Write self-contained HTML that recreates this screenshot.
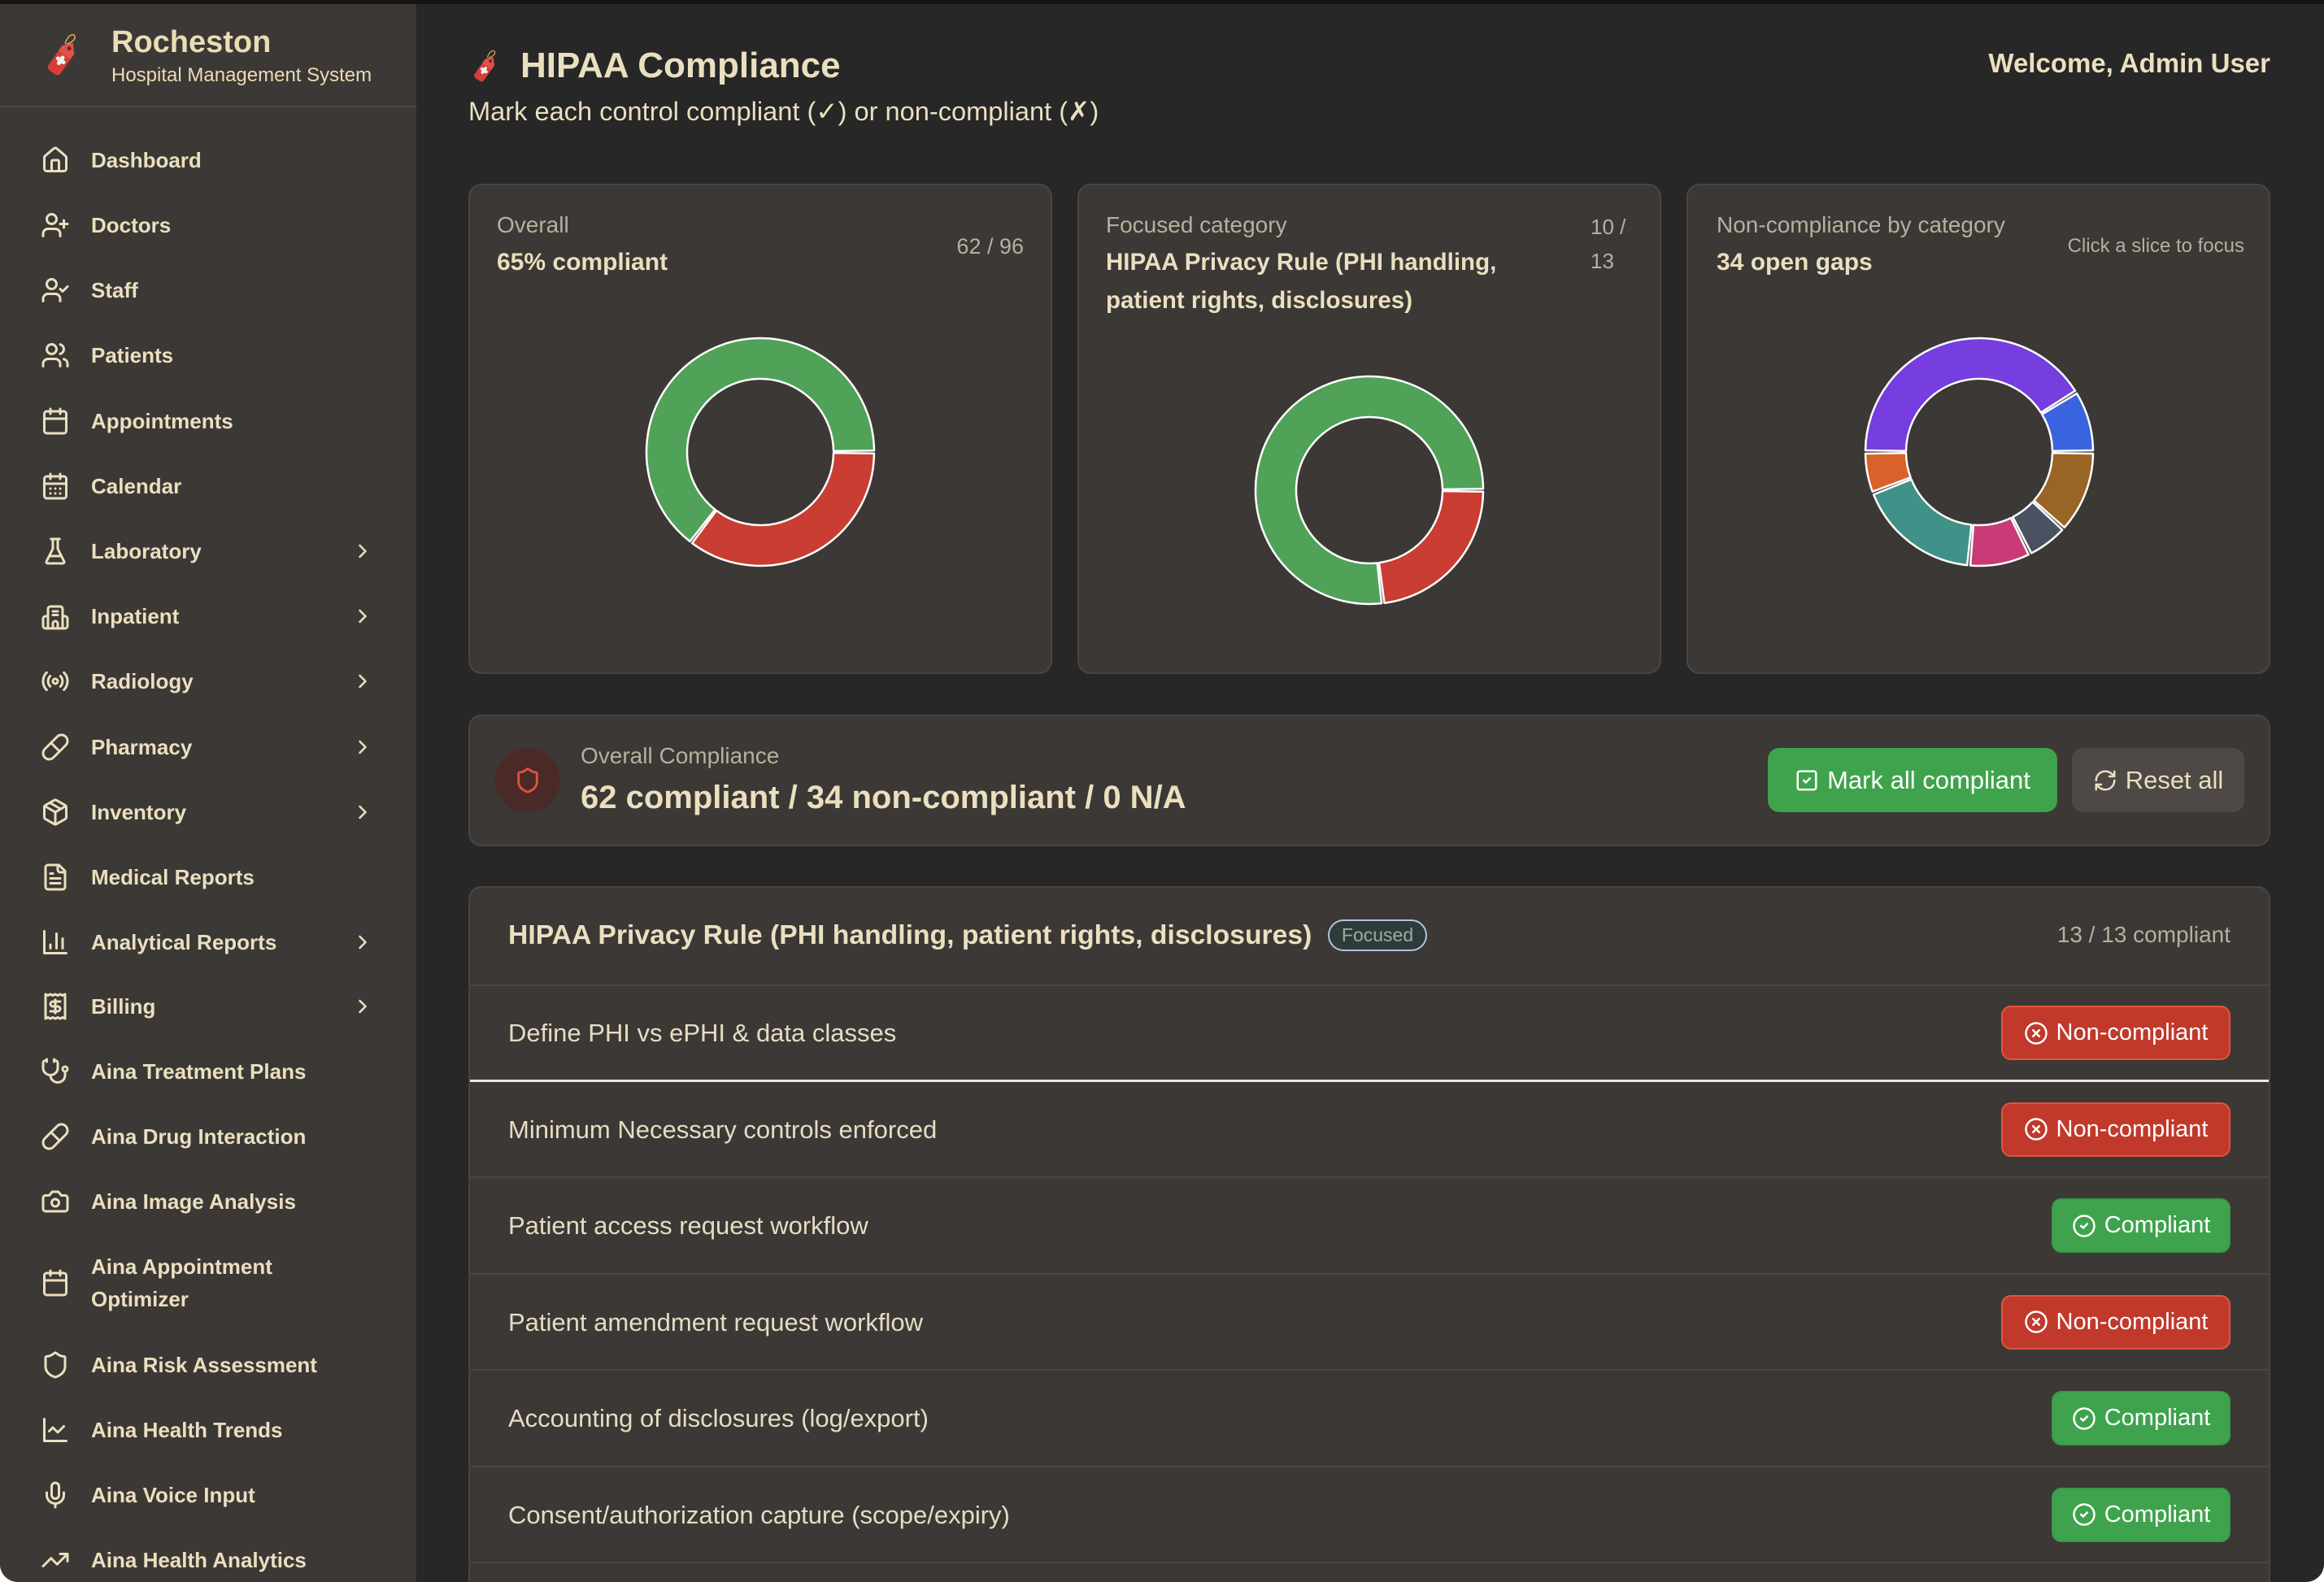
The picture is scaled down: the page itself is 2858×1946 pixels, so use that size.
<!DOCTYPE html>
<html><head><meta charset="utf-8"><title>HIPAA Compliance</title>
<style>
*{box-sizing:border-box}
html,body{margin:0;padding:0}
body{background:#ffffff;width:2858px;height:1946px;overflow:hidden}
#w{position:absolute;left:0;top:0;width:2858px;height:1946px;background:#272727;border-radius:0 0 22px 22px;overflow:hidden;font-family:"Liberation Sans",sans-serif;color:#eadfbf}
.a{position:absolute;white-space:nowrap}
#strip{position:absolute;left:0;top:0;width:2858px;height:5px;background:#151515}
#sb{position:absolute;left:0;top:5px;width:512px;height:1941px;background:#3c3835}
.ni{position:absolute;left:0;width:512px;height:60px}
.ni svg.ic{position:absolute;left:50px;top:12px;width:36px;height:36px;overflow:visible}
.ni .tx{position:absolute;left:112px;top:0;line-height:60px;font-size:26px;font-weight:bold;color:#eadfbf;white-space:nowrap}
.ni svg.ch{position:absolute;left:432px;top:16px;width:28px;height:28px}
.ic *{fill:none;stroke:#eadfbf;stroke-width:2;stroke-linecap:round;stroke-linejoin:round}
.ch *{fill:none;stroke:#eadfbf;stroke-width:2.2;stroke-linecap:round;stroke-linejoin:round}
.card{position:absolute;top:226px;width:718px;height:603px;background:#3c3835;border:2px solid #4a4541;border-radius:16px}
.lbl{font-size:28px;color:#b8af9f;line-height:40px}
.big{font-size:30px;font-weight:bold;color:#eadfbf;line-height:40px}
.row{position:absolute;left:578px;width:2212px;height:118.5px;border-bottom:2px solid #4a4541}
.rt{position:absolute;left:47px;top:0;line-height:118px;font-size:31px;color:#e6dcc3;white-space:nowrap}
.btn{position:absolute;display:flex;align-items:center;justify-content:center;gap:10px;height:67px;border-radius:12px;font-size:29px;color:#ffffff;white-space:nowrap}
.btn svg{width:30px;height:30px}
.btn svg *{fill:none;stroke:#ffffff;stroke-width:2;stroke-linecap:round;stroke-linejoin:round}
.nc{right:47px;width:282px;background:#c0392b;border:2px solid #e0553f}
.cp{right:47px;width:220px;background:#3fa34d;border:2px solid #3a9847}
</style></head>
<body>
<div id="w">
<div id="strip"></div>

<!-- SIDEBAR -->
<div id="sb"></div>
<svg class="a" style="left:47px;top:37px;width:60px;height:60px" viewBox="0 0 60 60">
  <g transform="rotate(35 30 34)">
    <path d="M21 22 L30 12 L39 22 L39 51 Q39 56 34 56 L26 56 Q21 56 21 51 Z" fill="#d63e38"/>
    <path d="M21 22 L30 12 L39 22 L39 30 L21 30 Z" fill="#e0524a"/>
    <circle cx="30" cy="20" r="2.6" fill="#7d221e"/>
    <path d="M26 38h8M30 34v8" stroke="#f4f0ea" stroke-width="5" stroke-linecap="round"/>
  </g>
  <path d="M33 17 C36 6 44 3 45 8 C46 12 40 16 35 17" fill="none" stroke="#d9ad4f" stroke-width="1.6"/>
</svg>
<div class="a" style="left:137px;top:30px;font-size:38px;font-weight:bold;line-height:44px;color:#eadcb4">Rocheston</div>
<div class="a" style="left:137px;top:78px;font-size:24px;line-height:30px;color:#eadcb4">Hospital Management System</div>
<div class="a" style="left:0;top:130px;width:512px;height:2px;background:#4d4844"></div>

<div class="ni" style="top:167px"><svg class="ic" viewBox="0 0 24 24"><path d="M15 21v-8a1 1 0 0 0-1-1h-4a1 1 0 0 0-1 1v8"/><path d="M3 10a2 2 0 0 1 .709-1.528l7-5.999a2 2 0 0 1 2.582 0l7 5.999A2 2 0 0 1 21 10v9a2 2 0 0 1-2 2H5a2 2 0 0 1-2-2z"/></svg><div class="tx">Dashboard</div></div>
<div class="ni" style="top:247px"><svg class="ic" viewBox="0 0 24 24"><path d="M16 21v-2a4 4 0 0 0-4-4H6a4 4 0 0 0-4 4v2"/><circle cx="9" cy="7" r="4"/><path d="M19 8v6M22 11h-6"/></svg><div class="tx">Doctors</div></div>
<div class="ni" style="top:327px"><svg class="ic" viewBox="0 0 24 24"><path d="M16 21v-2a4 4 0 0 0-4-4H6a4 4 0 0 0-4 4v2"/><circle cx="9" cy="7" r="4"/><polyline points="16 11 18 13 22 9"/></svg><div class="tx">Staff</div></div>
<div class="ni" style="top:407px"><svg class="ic" viewBox="0 0 24 24"><path d="M16 21v-2a4 4 0 0 0-4-4H6a4 4 0 0 0-4 4v2"/><circle cx="9" cy="7" r="4"/><path d="M22 21v-2a4 4 0 0 0-3-3.87"/><path d="M16 3.13a4 4 0 0 1 0 7.75"/></svg><div class="tx">Patients</div></div>
<div class="ni" style="top:488px"><svg class="ic" viewBox="0 0 24 24"><rect width="18" height="18" x="3" y="4" rx="2"/><path d="M16 2v4M8 2v4M3 10h18"/></svg><div class="tx">Appointments</div></div>
<div class="ni" style="top:568px"><svg class="ic" viewBox="0 0 24 24"><rect width="18" height="18" x="3" y="4" rx="2"/><path d="M16 2v4M8 2v4M3 10h18M8 14h.01M12 14h.01M16 14h.01M8 18h.01M12 18h.01M16 18h.01"/></svg><div class="tx">Calendar</div></div>
<div class="ni" style="top:648px"><svg class="ic" viewBox="0 0 24 24"><path d="M10 2v7.527a2 2 0 0 1-.211.896L4.72 20.55a1 1 0 0 0 .9 1.45h12.76a1 1 0 0 0 .9-1.45l-5.069-10.127A2 2 0 0 1 14 9.527V2"/><path d="M8.5 2h7M7 16h10"/></svg><div class="tx">Laboratory</div><svg class="ch" viewBox="0 0 24 24"><path d="m9 18 6-6-6-6"/></svg></div>
<div class="ni" style="top:728px"><svg class="ic" viewBox="0 0 24 24"><path d="M6 22V6a2 2 0 0 1 2-2h8a2 2 0 0 1 2 2v16"/><path d="M6 12H4a2 2 0 0 0-2 2v6a2 2 0 0 0 2 2h16a2 2 0 0 0 2-2v-6a2 2 0 0 0-2-2h-2"/><path d="M10 8h4M10 11h4M10 22v-4a2 2 0 0 1 4 0v4"/></svg><div class="tx">Inpatient</div><svg class="ch" viewBox="0 0 24 24"><path d="m9 18 6-6-6-6"/></svg></div>
<div class="ni" style="top:808px"><svg class="ic" viewBox="0 0 24 24"><path d="M4.9 19.1C1 15.2 1 8.8 4.9 4.9"/><path d="M7.8 16.2c-2.3-2.3-2.3-6.1 0-8.5"/><circle cx="12" cy="12" r="2"/><path d="M16.2 7.8c2.3 2.3 2.3 6.1 0 8.5"/><path d="M19.1 4.9C23 8.8 23 15.1 19.1 19"/></svg><div class="tx">Radiology</div><svg class="ch" viewBox="0 0 24 24"><path d="m9 18 6-6-6-6"/></svg></div>
<div class="ni" style="top:889px"><svg class="ic" viewBox="0 0 24 24"><path d="m10.5 20.5 10-10a4.95 4.95 0 1 0-7-7l-10 10a4.95 4.95 0 1 0 7 7Z"/><path d="m8.5 8.5 7 7"/></svg><div class="tx">Pharmacy</div><svg class="ch" viewBox="0 0 24 24"><path d="m9 18 6-6-6-6"/></svg></div>
<div class="ni" style="top:969px"><svg class="ic" viewBox="0 0 24 24"><path d="m7.5 4.27 9 5.15"/><path d="M21 8a2 2 0 0 0-1-1.73l-7-4a2 2 0 0 0-2 0l-7 4A2 2 0 0 0 3 8v8a2 2 0 0 0 1 1.73l7 4a2 2 0 0 0 2 0l7-4A2 2 0 0 0 21 16Z"/><path d="m3.3 7 8.7 5 8.7-5M12 22V12"/></svg><div class="tx">Inventory</div><svg class="ch" viewBox="0 0 24 24"><path d="m9 18 6-6-6-6"/></svg></div>
<div class="ni" style="top:1049px"><svg class="ic" viewBox="0 0 24 24"><path d="M15 2H6a2 2 0 0 0-2 2v16a2 2 0 0 0 2 2h12a2 2 0 0 0 2-2V7Z"/><path d="M14 2v4a2 2 0 0 0 2 2h4M10 9H8M16 13H8M16 17H8"/></svg><div class="tx">Medical Reports</div></div>
<div class="ni" style="top:1129px"><svg class="ic" viewBox="0 0 24 24"><path d="M3 3v18h18"/><path d="M18 17V9M13 17V5M8 17v-3"/></svg><div class="tx">Analytical Reports</div><svg class="ch" viewBox="0 0 24 24"><path d="m9 18 6-6-6-6"/></svg></div>
<div class="ni" style="top:1208px"><svg class="ic" viewBox="0 0 24 24"><path d="M4 2v20l2-1 2 1 2-1 2 1 2-1 2 1 2-1 2 1V2l-2 1-2-1-2 1-2-1-2 1-2-1-2 1Z"/><path d="M16 8h-6a2 2 0 1 0 0 4h4a2 2 0 1 1 0 4H8M12 17.5v-11"/></svg><div class="tx">Billing</div><svg class="ch" viewBox="0 0 24 24"><path d="m9 18 6-6-6-6"/></svg></div>
<div class="ni" style="top:1288px"><svg class="ic" viewBox="0 0 24 24"><path d="M11 2v2M5 2v2M5 3H4a2 2 0 0 0-2 2v4a6 6 0 0 0 12 0V5a2 2 0 0 0-2-2h-1"/><path d="M8 15a6 6 0 0 0 12 0v-3"/><circle cx="20" cy="10" r="2"/></svg><div class="tx">Aina Treatment Plans</div></div>
<div class="ni" style="top:1368px"><svg class="ic" viewBox="0 0 24 24"><path d="m10.5 20.5 10-10a4.95 4.95 0 1 0-7-7l-10 10a4.95 4.95 0 1 0 7 7Z"/><path d="m8.5 8.5 7 7"/></svg><div class="tx">Aina Drug Interaction</div></div>
<div class="ni" style="top:1448px"><svg class="ic" viewBox="0 0 24 24"><path d="M14.5 4h-5L7 7H4a2 2 0 0 0-2 2v9a2 2 0 0 0 2 2h16a2 2 0 0 0 2-2V9a2 2 0 0 0-2-2h-3l-2.5-3z"/><circle cx="12" cy="13" r="3"/></svg><div class="tx">Aina Image Analysis</div></div>
<div class="ni" style="top:1548px"><svg class="ic" viewBox="0 0 24 24"><rect width="18" height="18" x="3" y="4" rx="2"/><path d="M16 2v4M8 2v4M3 10h18"/></svg><div class="tx" style="top:-10px;line-height:40px">Aina Appointment<br>Optimizer</div></div>
<div class="ni" style="top:1649px"><svg class="ic" viewBox="0 0 24 24"><path d="M20 13c0 5-3.5 7.5-7.66 8.95a1 1 0 0 1-.67-.01C7.5 20.5 4 18 4 13V6a1 1 0 0 1 1-1c2 0 4.5-1.2 6.24-2.72a1.17 1.17 0 0 1 1.520 0C14.51 3.81 17 5 19 5a1 1 0 0 1 1 1z"/></svg><div class="tx">Aina Risk Assessment</div></div>
<div class="ni" style="top:1729px"><svg class="ic" viewBox="0 0 24 24"><path d="M3 3v18h18"/><path d="m19 9-5 5-4-4-3 3"/></svg><div class="tx">Aina Health Trends</div></div>
<div class="ni" style="top:1809px"><svg class="ic" viewBox="0 0 24 24"><path d="M12 2a3 3 0 0 0-3 3v7a3 3 0 0 0 6 0V5a3 3 0 0 0-3-3Z"/><path d="M19 10v2a7 7 0 0 1-14 0v-2M12 19v3"/></svg><div class="tx">Aina Voice Input</div></div>
<div class="ni" style="top:1889px"><svg class="ic" viewBox="0 0 24 24"><polyline points="22 7 13.5 15.5 8.5 10.5 2 17"/><polyline points="16 7 22 7 22 13"/></svg><div class="tx">Aina Health Analytics</div></div>

<!-- HEADER -->
<svg class="a" style="left:574px;top:58px;width:46px;height:46px" viewBox="0 0 60 60">
  <g transform="rotate(35 30 34)">
    <path d="M21 22 L30 12 L39 22 L39 51 Q39 56 34 56 L26 56 Q21 56 21 51 Z" fill="#d63e38"/>
    <path d="M21 22 L30 12 L39 22 L39 30 L21 30 Z" fill="#e0524a"/>
    <circle cx="30" cy="20" r="2.6" fill="#7d221e"/>
    <path d="M26 38h8M30 34v8" stroke="#f4f0ea" stroke-width="5" stroke-linecap="round"/>
  </g>
  <path d="M33 17 C36 6 44 3 45 8 C46 12 40 16 35 17" fill="none" stroke="#d9ad4f" stroke-width="1.6"/>
</svg>
<div class="a" style="left:640px;top:55px;font-size:44px;font-weight:bold;line-height:52px;color:#eadfbf">HIPAA Compliance</div>
<div class="a" style="left:576px;top:117px;font-size:32.6px;line-height:40px;color:#eadfbf">Mark each control compliant (✓) or non-compliant (✗)</div>
<div class="a" style="right:66px;top:58px;font-size:33px;font-weight:bold;line-height:40px;color:#eadfbf">Welcome, Admin User</div>

<!-- CARDS -->
<div class="card" style="left:576px"></div>
<div class="card" style="left:1325px"></div>
<div class="card" style="left:2074px"></div>

<div class="a lbl" style="left:611px;top:257px">Overall</div>
<div class="a big" style="left:611px;top:303px">65% compliant</div>
<div class="a lbl" style="right:1599px;top:283px;font-size:27px">62 / 96</div>

<div class="a lbl" style="left:1360px;top:257px">Focused category</div>
<div class="a big" style="left:1360px;font-size:29.5px;line-height:47px;top:299px">HIPAA Privacy Rule (PHI handling,<br>patient rights, disclosures)</div>
<div class="a lbl" style="left:1956px;top:258px;font-size:26px;line-height:42px">10 /<br>13</div>

<div class="a lbl" style="left:2111px;top:257px">Non-compliance by category</div>
<div class="a big" style="left:2111px;top:303px">34 open gaps</div>
<div class="a lbl" style="right:98px;top:283px;font-size:24px">Click a slice to focus</div>

<!-- DONUTS -->
<svg class="a" style="left:0;top:0;width:2858px;height:1000px" viewBox="0 0 2858 1000">
 <g stroke="#ffffff" stroke-width="2.5" stroke-linejoin="round">
  <path fill="#c93d32" d="M1074.99 557.71 A140 140 0 0 1 851.14 668.10 L881.09 628.06 A90 90 0 0 0 1024.99 557.10 Z"/>
  <path fill="#4fa258" d="M848.42 666.03 A140 140 0 1 1 1074.99 554.29 L1024.99 554.90 A90 90 0 1 0 879.34 626.73 Z"/>

  <path fill="#c93d32" d="M1823.99 604.71 A140 140 0 0 1 1702.52 741.77 L1695.90 692.21 A90 90 0 0 0 1773.99 604.10 Z"/>
  <path fill="#4fa258" d="M1699.12 742.18 A140 140 0 1 1 1823.99 601.29 L1773.99 601.90 A90 90 0 1 0 1693.72 692.47 Z"/>

  <path fill="#763ddf" d="M2294.01 554.05 A140 140 0 0 1 2551.99 480.64 L2509.85 507.55 A90 90 0 0 0 2344.01 554.74 Z"/>
  <path fill="#3a63e0" d="M2554.05 483.97 A140 140 0 0 1 2573.99 554.05 L2523.99 554.74 A90 90 0 0 0 2511.17 509.70 Z"/>
  <path fill="#986524" d="M2573.99 557.95 A140 140 0 0 1 2538.76 648.87 L2501.35 615.70 A90 90 0 0 0 2523.99 557.26 Z"/>
  <path fill="#4a5262" d="M2536.15 651.73 A140 140 0 0 1 2498.15 680.44 L2475.24 636.00 A90 90 0 0 0 2499.67 617.54 Z"/>
  <path fill="#c83b77" d="M2494.64 682.19 A140 140 0 0 1 2423.04 695.57 L2426.95 645.72 A90 90 0 0 0 2472.98 637.12 Z"/>
  <path fill="#409188" d="M2419.15 695.21 A140 140 0 0 1 2304.17 608.40 L2350.54 589.68 A90 90 0 0 0 2424.45 645.49 Z"/>
  <path fill="#d8622a" d="M2302.76 604.75 A140 140 0 0 1 2294.01 557.95 L2344.01 557.26 A90 90 0 0 0 2349.63 587.34 Z"/>
 </g>
</svg>

<!-- SUMMARY BAR -->
<div class="a" style="left:576px;top:879px;width:2216px;height:162px;background:#3c3835;border:2px solid #4a4541;border-radius:16px"></div>
<div class="a" style="left:609px;top:920px;width:80px;height:80px;border-radius:40px;background:#4a2a26"></div>
<svg class="a" style="left:632px;top:943px;width:34px;height:34px" viewBox="0 0 24 24"><path d="M20 13c0 5-3.5 7.5-7.66 8.95a1 1 0 0 1-.67-.01C7.5 20.5 4 18 4 13V6a1 1 0 0 1 1-1c2 0 4.5-1.2 6.24-2.72a1.17 1.17 0 0 1 1.52 0C14.51 3.81 17 5 19 5a1 1 0 0 1 1 1z" fill="none" stroke="#e0533f" stroke-width="2" stroke-linejoin="round"/></svg>
<div class="a lbl" style="left:714px;top:910px">Overall Compliance</div>
<div class="a" style="left:714px;top:956px;font-size:40px;font-weight:bold;line-height:50px;color:#eadfbf">62 compliant / 34 non-compliant / 0 N/A</div>

<div class="btn" style="left:2174px;top:920px;width:356px;height:79px;border-radius:14px;background:#3fa34d;font-size:31px"><svg viewBox="0 0 24 24"><rect x="3" y="3" width="18" height="18" rx="2"/><path d="m9 12 2 2 4-4"/></svg><span>Mark all compliant</span></div>
<div class="btn" style="left:2548px;top:920px;width:212px;height:79px;border-radius:14px;background:#4e4946;font-size:31px;color:#eadfbf"><svg viewBox="0 0 24 24" style="width:30px;height:30px"><g><path d="M3 12a9 9 0 0 1 9-9 9.75 9.75 0 0 1 6.74 2.74L21 8" style="stroke:#eadfbf"/><path d="M21 3v5h-5" style="stroke:#eadfbf"/><path d="M21 12a9 9 0 0 1-9 9 9.75 9.75 0 0 1-6.74-2.74L3 16" style="stroke:#eadfbf"/><path d="M8 16H3v5" style="stroke:#eadfbf"/></g></svg><span>Reset all</span></div>

<!-- CATEGORY PANEL -->
<div class="a" style="left:576px;top:1090px;width:2216px;height:920px;background:#3c3835;border:2px solid #4a4541;border-radius:16px"></div>
<div class="a" style="left:625px;top:1128px;font-size:33.7px;font-weight:bold;line-height:44px;color:#eadfbf">HIPAA Privacy Rule (PHI handling, patient rights, disclosures)</div>
<div class="a" style="left:1633px;top:1131px;width:122px;height:39px;border:2px solid #b0c4dc;border-radius:20px;background:#2e3b3a;color:#96b0a2;font-size:23px;line-height:35px;text-align:center">Focused</div>
<div class="a lbl" style="right:115px;top:1130px">13 / 13 compliant</div>
<div class="a" style="left:578px;top:1211px;width:2212px;height:2px;background:#4a4541"></div>

<div class="row" style="top:1212px;border-bottom:3px solid #e8e8e8"><div class="rt">Define PHI vs ePHI &amp; data classes</div><div class="btn nc" style="top:25px"><svg viewBox="0 0 24 24"><circle cx="12" cy="12" r="10"/><path d="m15 9-6 6M9 9l6 6"/></svg><span>Non-compliant</span></div></div>
<div class="row" style="top:1330.5px"><div class="rt">Minimum Necessary controls enforced</div><div class="btn nc" style="top:25px"><svg viewBox="0 0 24 24"><circle cx="12" cy="12" r="10"/><path d="m15 9-6 6M9 9l6 6"/></svg><span>Non-compliant</span></div></div>
<div class="row" style="top:1449px"><div class="rt">Patient access request workflow</div><div class="btn cp" style="top:25px"><svg viewBox="0 0 24 24"><circle cx="12" cy="12" r="10"/><path d="m9 12 2 2 4-4"/></svg><span>Compliant</span></div></div>
<div class="row" style="top:1567.5px"><div class="rt">Patient amendment request workflow</div><div class="btn nc" style="top:25px"><svg viewBox="0 0 24 24"><circle cx="12" cy="12" r="10"/><path d="m15 9-6 6M9 9l6 6"/></svg><span>Non-compliant</span></div></div>
<div class="row" style="top:1686px"><div class="rt">Accounting of disclosures (log/export)</div><div class="btn cp" style="top:25px"><svg viewBox="0 0 24 24"><circle cx="12" cy="12" r="10"/><path d="m9 12 2 2 4-4"/></svg><span>Compliant</span></div></div>
<div class="row" style="top:1804.5px"><div class="rt">Consent/authorization capture (scope/expiry)</div><div class="btn cp" style="top:25px"><svg viewBox="0 0 24 24"><circle cx="12" cy="12" r="10"/><path d="m9 12 2 2 4-4"/></svg><span>Compliant</span></div></div>
</div>
</body></html>
